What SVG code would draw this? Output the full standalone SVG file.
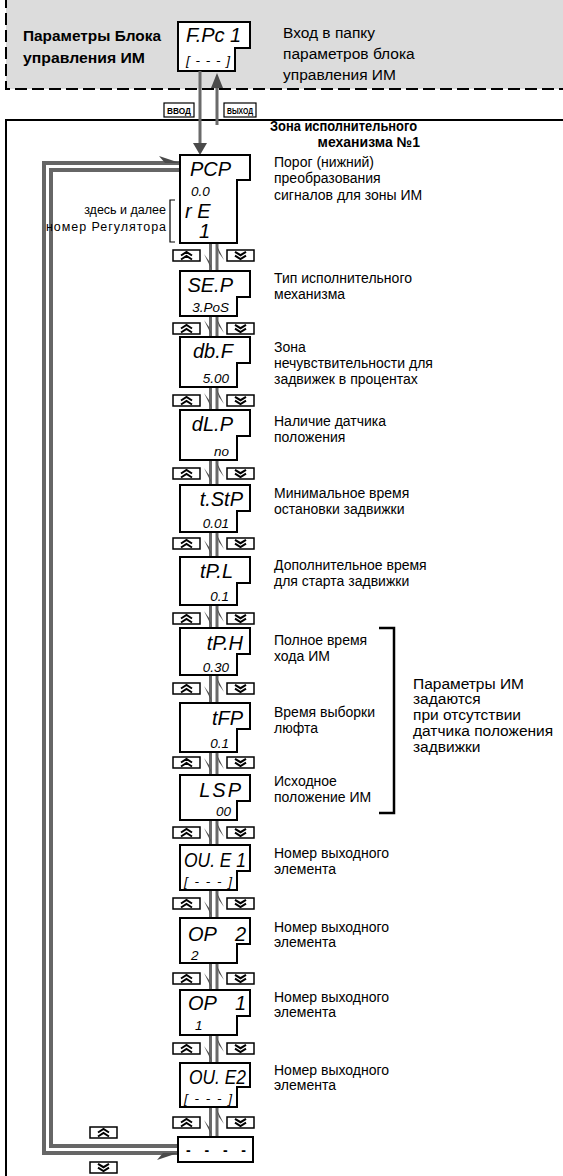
<svg xmlns="http://www.w3.org/2000/svg" xmlns:xlink="http://www.w3.org/1999/xlink" width="563" height="1176" viewBox="0 0 563 1176">
<style>
.t{font-family:"Liberation Sans",Arial,sans-serif;font-size:14px;fill:#000}
.b{font-weight:bold}
.big{font-size:15.5px}
.sm{font-size:12.5px}
.lcd{font-family:"Liberation Sans",Arial,sans-serif;font-style:italic;font-size:20px;fill:#000}
.lcs{font-family:"Liberation Sans",Arial,sans-serif;font-style:italic;font-size:13.5px;fill:#000}
.box{fill:#fff;stroke:#000;stroke-width:2}
.conn{stroke:#6a6a6a;stroke-width:3;fill:none}
.loop{stroke:#666;stroke-width:4;fill:none}
.head{fill:#4a4a4a}
.btn{fill:#fff;stroke:#000;stroke-width:1.5}
.chev{fill:none;stroke:#000;stroke-width:2}
.tag{font-family:"Liberation Sans",Arial,sans-serif;font-size:9px;font-weight:bold;fill:#000}
</style>
<defs>
<g id="up"><rect class="btn" x="0" y="0" width="27" height="11"/><path class="chev" d="M8,5.5L13.5,2L19,5.5M8,9.5L13.5,6L19,9.5"/></g>
<g id="dn"><rect class="btn" x="0" y="0" width="27" height="11"/><path class="chev" d="M8,1.8L13.5,5.2L19,1.8M8,5.6L13.5,9L19,5.6"/></g>
</defs>

<g id="header">
<rect x="6" y="0" width="560" height="89" fill="#dcdcdc"/>
<path d="M6,-4V89H570" fill="none" stroke="#000" stroke-width="2" stroke-dasharray="12 5"/>
<text class="t b" x="23" y="41" font-size="16" textLength="138" lengthAdjust="spacingAndGlyphs">Параметры Блока</text>
<text class="t b" x="23" y="63" font-size="16" textLength="122" lengthAdjust="spacingAndGlyphs">управления ИМ</text>
<text class="t big" x="283" y="38">Вход в папку</text>
<text class="t big" x="283" y="59">параметров блока</text>
<text class="t big" x="283" y="80">управления ИМ</text>
</g>

<g id="node-fpc">
<path class="box" d="M178,22H250V48H235V71H178Z"/>
<text class="lcd" x="186" y="42">F.Pc 1</text>
<text class="lcs" x="186" y="65" textLength="44" lengthAdjust="spacing">[---]</text>
</g>

<g id="zone">
<rect x="6" y="120" width="600" height="1100" fill="none" stroke="#000" stroke-width="2"/>
<text class="t b" x="270" y="131" textLength="147" lengthAdjust="spacingAndGlyphs">Зона исполнительного</text>
<text class="t b" x="420" y="147" text-anchor="end">механизма №1</text>
</g>

<g id="tags">
<rect x="164" y="103" width="30" height="14" fill="#fff" stroke="#000" stroke-width="1.2"/>
<text class="tag" x="167" y="113.5" textLength="24" lengthAdjust="spacingAndGlyphs">ВВОД</text>
<rect x="224" y="103" width="32" height="14" fill="#fff" stroke="#000" stroke-width="1.2"/>
<text class="tag" x="227" y="113.5" textLength="26" lengthAdjust="spacingAndGlyphs">ВЫХОД</text>
</g>

<g id="connectors">
<path class="conn" d="M200,71V145M217,125V85"/>
<polygon class="head" points="193,143 207,143 200,155"/>
<polygon class="head" points="211,88 223,88 217,73"/>
<path class="loop" d="M180,163H44V1153H178"/>
<path class="loop" d="M180,170H51V1146H178" stroke-width="3.5"/>
<polygon class="head" points="180,163 159,156 165,163"/>
<polygon class="head" points="178,1153 157,1160 163,1153"/>
<path class="conn" d="M210.5,243V270M210.5,316V336M210.5,387V409M210.5,460V484M210.5,532V556M210.5,605V627M210.5,675V702M210.5,752V774M210.5,820V844M210.5,890V917M210.5,963V989M210.5,1035V1062M210.5,1107V1136"/>
<path class="conn" d="M217,244V271M217,317V337M217,388V410M217,461V485M217,533V557M217,606V628M217,676V703M217,753V775M217,821V845M217,891V918M217,964V990M217,1036V1063M217,1108V1137"/>
<g class="head">
<polygon points="212,270 204,254 209,261"/>
<polygon points="212,336 204,320 209,327"/>
<polygon points="212,409 204,393 209,400"/>
<polygon points="212,484 204,468 209,475"/>
<polygon points="212,556 204,540 209,547"/>
<polygon points="212,627 204,611 209,618"/>
<polygon points="212,702 204,686 209,693"/>
<polygon points="212,774 204,758 209,765"/>
<polygon points="212,844 204,828 209,835"/>
<polygon points="212,917 204,901 209,908"/>
<polygon points="212,989 204,973 209,980"/>
<polygon points="212,1062 204,1046 209,1053"/>
<polygon points="212,1136 204,1120 209,1127"/>
<polygon points="216,244 224,260 219,253"/>
<polygon points="216,317 224,333 219,326"/>
<polygon points="216,388 224,404 219,397"/>
<polygon points="216,461 224,477 219,470"/>
<polygon points="216,533 224,549 219,542"/>
<polygon points="216,606 224,622 219,615"/>
<polygon points="216,676 224,692 219,685"/>
<polygon points="216,753 224,769 219,762"/>
<polygon points="216,821 224,837 219,830"/>
<polygon points="216,891 224,907 219,900"/>
<polygon points="216,964 224,980 219,973"/>
<polygon points="216,1036 224,1052 219,1045"/>
<polygon points="216,1108 224,1124 219,1117"/>
</g>
</g>

<g id="buttons">
<use href="#up" x="173" y="250"/><use href="#dn" x="227" y="250"/>
<use href="#up" x="173" y="323"/><use href="#dn" x="227" y="323"/>
<use href="#up" x="173" y="395"/><use href="#dn" x="227" y="395"/>
<use href="#up" x="173" y="468"/><use href="#dn" x="227" y="468"/>
<use href="#up" x="173" y="538"/><use href="#dn" x="227" y="538"/>
<use href="#up" x="173" y="613"/><use href="#dn" x="227" y="613"/>
<use href="#up" x="173" y="683"/><use href="#dn" x="227" y="683"/>
<use href="#up" x="173" y="757"/><use href="#dn" x="227" y="757"/>
<use href="#up" x="173" y="827"/><use href="#dn" x="227" y="827"/>
<use href="#up" x="173" y="898"/><use href="#dn" x="227" y="898"/>
<use href="#up" x="173" y="973"/><use href="#dn" x="227" y="973"/>
<use href="#up" x="173" y="1043"/><use href="#dn" x="227" y="1043"/>
<use href="#up" x="173" y="1117"/><use href="#dn" x="227" y="1117"/>
<use href="#up" x="90" y="1127"/>
<use href="#dn" x="90" y="1162"/>
</g>

<g id="node-pcp">
<path class="box" d="M180,155H250V180H237V243H180Z"/>
<text class="lcd" x="190" y="176">PCP</text>
<text class="lcs" x="191" y="196">0.0</text>
<text class="lcd" x="185" y="218" font-size="17">r E</text>
<text class="lcd" x="199" y="238" font-size="17">1</text>
<path d="M175,200H170V242H175" fill="none" stroke="#000" stroke-width="1.2"/>
<text class="t sm" x="166" y="214" text-anchor="end">здесь и далее</text>
<text class="t sm" x="166" y="231" text-anchor="end" textLength="120" lengthAdjust="spacing">номер Регулятора</text>
<text class="t" x="274" y="167">Порог (нижний)</text>
<text class="t" x="274" y="183">преобразования</text>
<text class="t" x="274" y="200">сигналов для зоны ИМ</text>
</g>

<g id="node-sep">
<path class="box" d="M180,271H250V297H237V316H180Z"/>
<text class="lcd" x="233" y="292" text-anchor="end">SE.P</text>
<text class="lcs" x="229" y="312" text-anchor="end">3.PoS</text>
<text class="t" x="274" y="283">Тип исполнительного</text>
<text class="t" x="274" y="299">механизма</text>
</g>

<g id="node-dbf">
<path class="box" d="M180,337H250V363H237V387H180Z"/>
<text class="lcd" x="233" y="358" text-anchor="end">db.F</text>
<text class="lcs" x="229" y="383" text-anchor="end">5.00</text>
<text class="t" x="274" y="352">Зона</text>
<text class="t" x="274" y="368">нечувствительности для</text>
<text class="t" x="274" y="384">задвижек в процентах</text>
</g>

<g id="node-dlp">
<path class="box" d="M180,410H250V436H237V460H180Z"/>
<text class="lcd" x="233" y="431" text-anchor="end">dL.P</text>
<text class="lcs" x="229" y="456" text-anchor="end">no</text>
<text class="t" x="274" y="426">Наличие датчика</text>
<text class="t" x="274" y="442">положения</text>
</g>

<g id="node-tstp">
<path class="box" d="M180,485H250V511H237V532H180Z"/>
<text class="lcd" x="243" y="506" text-anchor="end">t.StP</text>
<text class="lcs" x="229" y="528" text-anchor="end">0.01</text>
<text class="t" x="274" y="498">Минимальное время</text>
<text class="t" x="274" y="514">остановки задвижки</text>
</g>

<g id="node-tpl">
<path class="box" d="M180,557H250V583H237V605H180Z"/>
<text class="lcd" x="233" y="578" text-anchor="end">tP.L</text>
<text class="lcs" x="229" y="601" text-anchor="end">0.1</text>
<text class="t" x="274" y="570">Дополнительное время</text>
<text class="t" x="274" y="586">для старта задвижки</text>
</g>

<g id="node-tph">
<path class="box" d="M180,628H250V654H237V675H180Z"/>
<text class="lcd" x="243" y="650" text-anchor="end">tP.H</text>
<text class="lcs" x="229" y="672" text-anchor="end">0.30</text>
<text class="t" x="274" y="645">Полное время</text>
<text class="t" x="274" y="661">хода ИМ</text>
</g>

<g id="node-tfp">
<path class="box" d="M180,703H250V729H237V752H180Z"/>
<text class="lcd" x="243" y="725" text-anchor="end">tFP</text>
<text class="lcs" x="229" y="748" text-anchor="end">0.1</text>
<text class="t" x="274" y="717">Время выборки</text>
<text class="t" x="274" y="733">люфта</text>
</g>

<g id="node-lsp">
<path class="box" d="M180,775H250V801H237V820H180Z"/>
<text class="lcd" x="243" y="797" text-anchor="end" letter-spacing="2">LSP</text>
<text class="lcs" x="231" y="816" text-anchor="end">00</text>
<text class="t" x="274" y="786">Исходное</text>
<text class="t" x="274" y="802">положение ИМ</text>
</g>

<g id="bracket">
<path d="M379,628H394V813H379" fill="none" stroke="#000" stroke-width="2.5"/>
<text class="t big" x="413" y="689">Параметры ИМ</text>
<text class="t big" x="413" y="704">задаются</text>
<text class="t big" x="413" y="720">при отсутствии</text>
<text class="t big" x="413" y="736">датчика положения</text>
<text class="t big" x="413" y="752">задвижки</text>
</g>

<g id="node-oue1">
<path class="box" d="M180,845H250V871H237V890H180Z"/>
<text class="lcd" x="184" y="867" textLength="62" lengthAdjust="spacingAndGlyphs">OU. E 1</text>
<text class="lcs" x="184" y="886" textLength="48" lengthAdjust="spacing">[---]</text>
<text class="t" x="274" y="858">Номер выходного</text>
<text class="t" x="274" y="874">элемента</text>
</g>

<g id="node-op2">
<path class="box" d="M180,918H250V944H237V963H180Z"/>
<text class="lcd" x="188" y="941">OP</text>
<text class="lcd" x="246" y="941" text-anchor="end">2</text>
<text class="lcs" x="191" y="960">2</text>
<text class="t" x="274" y="932">Номер выходного</text>
<text class="t" x="274" y="947">элемента</text>
</g>

<g id="node-op1">
<path class="box" d="M180,990H250V1016H237V1035H180Z"/>
<text class="lcd" x="188" y="1010">OP</text>
<text class="lcd" x="246" y="1010" text-anchor="end">1</text>
<text class="lcs" x="195" y="1030">1</text>
<text class="t" x="274" y="1002">Номер выходного</text>
<text class="t" x="274" y="1017">элемента</text>
</g>

<g id="node-oue2">
<path class="box" d="M180,1063H250V1087H237V1107H180Z"/>
<text class="lcd" x="189" y="1084" textLength="57" lengthAdjust="spacingAndGlyphs">OU. E2</text>
<text class="lcs" x="184" y="1103" textLength="48" lengthAdjust="spacing">[---]</text>
<text class="t" x="274" y="1075">Номер выходного</text>
<text class="t" x="274" y="1090">элемента</text>
</g>

<g id="node-end">
<rect class="box" x="178" y="1137" width="75" height="25"/>
<text class="t b" x="186" y="1155" font-size="20" textLength="60" lengthAdjust="spacing">- - - -</text>
</g>
</svg>
